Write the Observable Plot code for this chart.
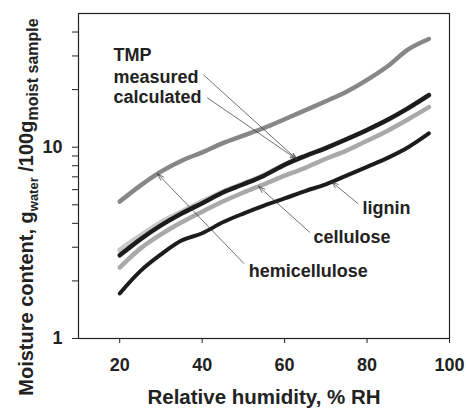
<!DOCTYPE html>
<html>
<head>
<meta charset="utf-8">
<script src="https://cdn.jsdelivr.net/npm/d3@7"></script>
<script src="https://cdn.jsdelivr.net/npm/@observablehq/plot@0.6"></script>
<style>
  html, body { margin: 0; padding: 0; background: #fff; }
  #chart { width: 466px; height: 408px; }
</style>
</head>
<body>
<div id="chart"></div>
<script>
// ---- data ----
const rh = [20, 25, 30, 35, 40, 45, 50, 55, 60, 65, 70, 75, 80, 85, 90, 95];
const hemicellulose = [5.2, 6.3, 7.45, 8.5, 9.4, 10.5, 11.5, 12.6, 14.0, 15.6, 17.4, 19.5, 22.5, 26.5, 32.5, 36.8];
const tmpMeasured = [2.72, 3.3, 3.9, 4.5, 5.1, 5.8, 6.4, 7.1, 8.1, 9.0, 9.9, 11.0, 12.3, 13.9, 16.0, 18.7];
const tmpCalculated = [2.9, 3.45, 4.05, 4.6, 5.2, 5.85, 6.45, 7.15, 8.1, 9.0, 9.9, 11.0, 12.3, 13.9, 16.0, 18.7];
const cellulose = [2.35, 2.95, 3.5, 4.05, 4.6, 5.2, 5.8, 6.4, 7.1, 7.8, 8.7, 9.6, 10.8, 12.2, 14.0, 16.2];
const lignin = [1.72, 2.25, 2.75, 3.25, 3.55, 4.05, 4.5, 4.95, 5.4, 5.9, 6.4, 7.1, 7.9, 8.8, 10.0, 11.8];

const xTicks = [20, 40, 60, 80, 100];
const yTicks = [1, 2, 3, 4, 5, 6, 7, 8, 9, 10, 20, 30, 40];
const yTickLabels = [1, 10];

// annotation labels (data coordinates of label left/middle)
const annotLabels = ["TMP", "measured", "calculated", "hemicellulose", "cellulose", "lignin"];
const annotX = [18.5, 18.5, 18.5, 51.3, 67.0, 78.9];
const annotY = [30.3, 23.2, 18.3, 2.24, 3.38, 4.80];

// arrows: start point, and target RH on a named series
const arrowStartX = [40.4, 41.3, 50.1, 66.1, 77.7];
const arrowStartY = [23.8, 18.1, 2.47, 3.59, 5.09];
const arrowTargetX = [63, 63, 29.2, 53.7, 71.4];
const arrowTargetSeries = ["tmpMeasured", "tmpMeasured", "hemicellulose", "cellulose", "lignin"];

// ---- build tables ----
const seriesMap = {hemicellulose, tmpMeasured, tmpCalculated, cellulose, lignin};
const seriesStyle = [
  {key: "hemicellulose", stroke: "#878787", width: 4.5},
  {key: "tmpCalculated", stroke: "#c9c9c9", width: 5},
  {key: "cellulose", stroke: "#a9a9a9", width: 4.5},
  {key: "tmpMeasured", stroke: "#1c1c1c", width: 4.5},
  {key: "lignin", stroke: "#1c1c1c", width: 4}
];
function table(key) { return rh.map((x, i) => ({x, y: seriesMap[key][i]})); }
function interp(key, x) {
  const ys = seriesMap[key];
  for (let i = 0; i < rh.length - 1; i++) {
    if (x >= rh[i] && x <= rh[i + 1]) {
      const t = (x - rh[i]) / (rh[i + 1] - rh[i]);
      return Math.exp(Math.log(ys[i]) * (1 - t) + Math.log(ys[i + 1]) * t);
    }
  }
  return ys[ys.length - 1];
}
const labels = annotLabels.map((t, i) => ({t, x: annotX[i], y: annotY[i]}));
const arrows = arrowStartX.map((x1, i) => ({
  x1, y1: arrowStartY[i], x2: arrowTargetX[i], y2: interp(arrowTargetSeries[i], arrowTargetX[i])
}));

const font = "'Liberation Sans', Arial, sans-serif";

const plot = Plot.plot({
  width: 466,
  height: 408,
  marginLeft: 78,
  marginRight: 17,
  marginTop: 13,
  marginBottom: 70,
  style: {fontFamily: font, fontSize: "18px", fontWeight: "bold", background: "#fff", color: "#222"},
  x: {domain: [10, 100]},
  y: {type: "log", domain: [1, 50]},
  marks: [
    ...seriesStyle.map(s => Plot.line(table(s.key), {
      x: "x", y: "y", stroke: s.stroke, strokeWidth: s.width, curve: "catmull-rom"
    })),
    Plot.arrow(arrows, {
      x1: "x1", y1: "y1", x2: "x2", y2: "y2",
      stroke: "#333", strokeWidth: 0.7, headLength: 15, headAngle: 36
    }),
    Plot.text(labels, {
      x: "x", y: "y", text: "t", textAnchor: "start", fontSize: 18, fontWeight: "bold", fill: "#222"
    }),
    Plot.frame({stroke: "#222", strokeWidth: 1.2}),
    Plot.axisX({
      ticks: xTicks, tickSize: 5, tickPadding: 15, tickFormat: d => String(d),
      fontSize: 18, fontWeight: "bold", label: null, stroke: "#222"
    }),
    Plot.axisY({
      ticks: yTicks, tickSize: 6, tickPadding: 10,
      tickFormat: d => yTickLabels.includes(d) ? String(d) : "",
      fontSize: 18, fontWeight: "bold", label: null, stroke: "#222"
    })
  ]
});

const svg = d3.select(plot);
// x axis title
svg.append("text")
  .attr("x", 264).attr("y", 404)
  .attr("text-anchor", "middle")
  .attr("font-family", font).attr("font-weight", "bold").attr("font-size", 20.5)
  .attr("fill", "#222")
  .text("Relative humidity, % RH");

// y axis title with subscripts
const yt = svg.append("text")
  .attr("transform", "translate(33,207) rotate(-90)")
  .attr("text-anchor", "middle")
  .attr("font-family", font).attr("font-weight", "bold").attr("font-size", 20)
  .attr("fill", "#222");
yt.append("tspan").text("Moisture content, g");
yt.append("tspan").attr("font-size", 13).attr("dy", 5).text("water");
yt.append("tspan").attr("dy", -5).text(" /100g");
yt.append("tspan").attr("font-size", 16).attr("dy", 5).text("moist sample");

document.getElementById("chart").appendChild(plot);
</script>
</body>
</html>
